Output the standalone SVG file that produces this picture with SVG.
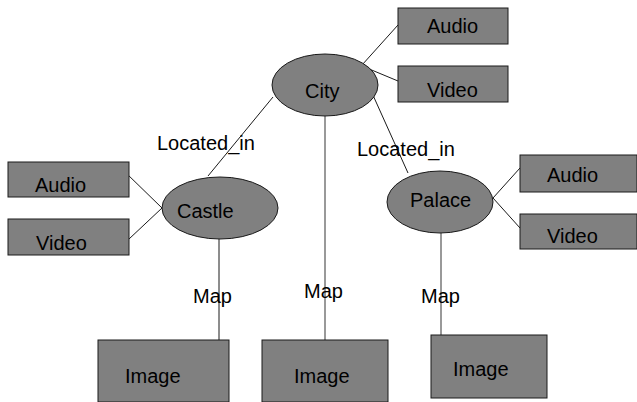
<svg xmlns="http://www.w3.org/2000/svg" width="637" height="402" viewBox="0 0 637 402">
<style>
.n{fill:#808080;stroke:#1a1a1a;stroke-width:1}
.t{font-family:"Liberation Sans",Arial,sans-serif;font-size:20px;fill:#000}
.c{stroke:#1a1a1a;stroke-width:1;fill:none}
.g{stroke:#555;stroke-width:1.2;fill:none}
</style>
<rect width="637" height="402" fill="#fff"/>
<g id="connectors">
<line class="c" x1="362" y1="65" x2="398" y2="25"/>
<line class="c" x1="362" y1="66" x2="398" y2="81"/>
<line class="c" x1="125" y1="172" x2="162" y2="208"/>
<line class="c" x1="129" y1="239" x2="162" y2="208"/>
<line class="c" x1="493" y1="198" x2="520" y2="168"/>
<line class="c" x1="493" y1="198" x2="520" y2="228"/>
<line class="c" x1="273" y1="97" x2="208" y2="176"/>
<line class="c" x1="372" y1="93" x2="408" y2="173"/>
<line class="c" x1="219" y1="239" x2="219" y2="340"/>
<line class="g" x1="325" y1="116" x2="325" y2="340"/>
<line class="g" x1="441" y1="233" x2="441" y2="335"/>
<text class="t" x="157" y="150">Located_in</text>
<text class="t" x="357" y="156">Located_in</text>
<text class="t" x="193" y="303">Map</text>
<text class="t" x="304" y="298">Map</text>
<text class="t" x="421" y="303">Map</text>
</g>
<g id="city"><ellipse class="n" cx="325" cy="85" rx="53" ry="31"/><text class="t" x="305" y="98">City</text></g>
<g id="city-audio"><rect class="n" x="398" y="8" width="110" height="36"/><text class="t" x="427" y="33">Audio</text></g>
<g id="city-video"><rect class="n" x="398" y="66" width="110" height="36"/><text class="t" x="427" y="97">Video</text></g>
<g id="castle"><ellipse class="n" cx="220" cy="208" rx="58" ry="31"/><text class="t" x="177" y="218">Castle</text></g>
<g id="castle-audio"><rect class="n" x="8" y="162" width="121" height="35"/><text class="t" x="35" y="192">Audio</text></g>
<g id="castle-video"><rect class="n" x="8" y="219" width="121" height="36"/><text class="t" x="36" y="250">Video</text></g>
<g id="palace"><ellipse class="n" cx="440" cy="202" rx="53" ry="31"/><text class="t" x="410" y="207">Palace</text></g>
<g id="palace-audio"><rect class="n" x="520" y="155" width="117" height="37"/><text class="t" x="547" y="182">Audio</text></g>
<g id="palace-video"><rect class="n" x="520" y="214" width="117" height="35"/><text class="t" x="547" y="243">Video</text></g>
<g id="castle-image"><rect class="n" x="98" y="340" width="131" height="62"/><text class="t" x="125" y="383">Image</text></g>
<g id="city-image"><rect class="n" x="262" y="340" width="126" height="62"/><text class="t" x="294" y="383">Image</text></g>
<g id="palace-image"><rect class="n" x="431" y="335" width="116" height="63"/><text class="t" x="453" y="376">Image</text></g>
</svg>
